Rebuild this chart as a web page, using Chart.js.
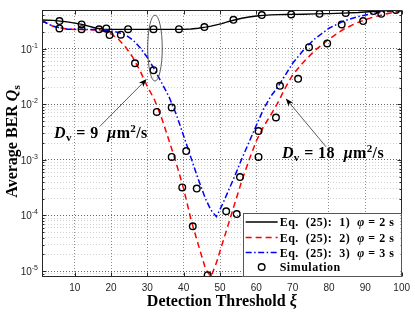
<!DOCTYPE html>
<html>
<head>
<meta charset="utf-8">
<script src="https://cdn.jsdelivr.net/npm/chart.js"></script>
<style>
  html, body { margin: 0; padding: 0; background: #fff; }
</style>
</head>
<body>
<canvas id="myChart" width="415" height="312"></canvas>
<script>
// detection threshold values where the analytical curves are read
const threshold = [1, 4, 8, 12, 16, 18, 20, 22, 24, 26, 28, 30, 32, 34, 36, 38, 40, 42, 44, 46, 47.5, 49, 50.5, 52, 54, 56, 58, 60, 62, 64, 66, 68, 70, 73, 76, 80, 84, 88, 92, 96, 100];

// Eq. (25): 1) phi = 2 s
const berEq1 = [0.33, 0.325, 0.305, 0.275, 0.235, 0.226, 0.224, 0.224, 0.224, 0.224, 0.224, 0.224, 0.224, 0.224, 0.224, 0.224, 0.224, 0.227, 0.235, 0.246, 0.256, 0.27, 0.285, 0.305, 0.33, 0.355, 0.375, 0.39, 0.40, 0.408, 0.412, 0.415, 0.417, 0.42, 0.425, 0.43, 0.44, 0.45, 0.47, 0.49, 0.50];
// Eq. (25): 2) phi = 2 s
const berEq2 = [0.32, 0.255, 0.226, 0.222, 0.218, 0.207, 0.185, 0.15, 0.108, 0.07, 0.04, 0.021, 0.012, 0.0055, 0.0022, 0.00085, 0.0003, 0.000085, 0.00003, 0.000011, 0.0000079, 0.000014, 0.000029, 0.00006, 0.00016, 0.00042, 0.001, 0.0022, 0.004, 0.0065, 0.011, 0.02, 0.034, 0.058, 0.092, 0.15, 0.225, 0.30, 0.37, 0.43, 0.48];
// Eq. (25): 3) phi = 3 s
const berEq3 = [0.32, 0.255, 0.226, 0.224, 0.222, 0.218, 0.21, 0.197, 0.178, 0.145, 0.105, 0.07, 0.042, 0.024, 0.0135, 0.0065, 0.0027, 0.0011, 0.00045, 0.0002, 0.000125, 0.000095, 0.00015, 0.00025, 0.0005, 0.00105, 0.0021, 0.0042, 0.0083, 0.014, 0.021, 0.034, 0.055, 0.095, 0.15, 0.235, 0.315, 0.38, 0.43, 0.47, 0.50];

// simulation markers
const simX = [5.8, 5.8, 11.9, 11.9, 16.7, 18.7, 19.6, 22.7, 24.7, 26.6, 31.7, 31.7, 32.6, 36.7, 36.7, 38.7, 39.6, 40.7, 42.5, 43.6, 45.7, 46.6, 51.7, 53.7, 54.6, 55.5, 60.6, 60.6, 61.5, 65.4, 66.5, 69.6, 71.5, 74.5, 77.4, 79.5, 83.5, 84.6, 89.4, 92.3, 94.4, 98.4];
const simY = [0.316, 0.233, 0.275, 0.226, 0.225, 0.233, 0.177, 0.18, 0.226, 0.055, 0.226, 0.0413, 0.0073, 0.0088, 0.00113, 0.226, 0.00032, 0.00144, 0.000064, 0.000305, 0.246, 0.0000084, 0.000119, 0.333, 0.000106, 0.00049, 0.00113, 0.0033, 0.405, 0.0058, 0.0216, 0.417, 0.0288, 0.107, 0.427, 0.125, 0.275, 0.44, 0.316, 0.478, 0.427, 0.5];

const xTicks = [10, 20, 30, 40, 50, 60, 70, 80, 90, 100];
const yDecades = [-5, -4, -3, -2, -1];

const SERIF = "'Liberation Serif', 'DejaVu Serif', serif";
const SANS = "'Liberation Sans', Arial, sans-serif";

const pts = (xs, ys) => xs.map((x, i) => ({ x: x, y: ys[i] }));

function richText(ctx, parts, x, y, center, spacing) {
    ctx.letterSpacing = (spacing || 0) + 'px';
    let w = 0;
    parts.forEach(p => { ctx.font = p.f; p.w = ctx.measureText(p.t).width; w += p.w; });
    let cx = center ? x - w / 2 : x;
    parts.forEach(p => { ctx.font = p.f; ctx.fillText(p.t, cx, y + (p.dy || 0)); cx += p.w; });
    ctx.letterSpacing = '0px';
}

function arrow(ctx, x0, y0, x1, y1) {
    const a = Math.atan2(y1 - y0, x1 - x0);
    ctx.strokeStyle = '#333';
    ctx.lineWidth = 0.8;
    ctx.beginPath();
    ctx.moveTo(x0, y0);
    ctx.lineTo(x1 - 6 * Math.cos(a), y1 - 6 * Math.sin(a));
    ctx.stroke();
    ctx.fillStyle = '#000';
    ctx.beginPath();
    ctx.moveTo(x1, y1);
    ctx.lineTo(x1 - 8 * Math.cos(a) + 3 * Math.sin(a), y1 - 8 * Math.sin(a) - 3 * Math.cos(a));
    ctx.lineTo(x1 - 6 * Math.cos(a), y1 - 6 * Math.sin(a));
    ctx.lineTo(x1 - 8 * Math.cos(a) - 3 * Math.sin(a), y1 - 8 * Math.sin(a) + 3 * Math.cos(a));
    ctx.closePath();
    ctx.fill();
}

function dvLabel(num) {
    const b = 'bold 16px ' + SERIF, bi = 'italic bold 16px ' + SERIF, s = 'bold 11px ' + SERIF;
    return [
        { t: 'D', f: bi }, { t: 'v', f: s, dy: 3 }, { t: ' = ' + num + '  ', f: b },
        { t: 'μ', f: bi }, { t: 'm', f: b }, { t: '2', f: s, dy: -6 }, { t: '/s', f: b }
    ];
}

const decor = {
    id: 'decor',
    afterDraw(chart) {
        const ctx = chart.ctx, ca = chart.chartArea;
        const xs = chart.scales.x, ys = chart.scales.y;
        ctx.save();

        // axes box + inward ticks
        ctx.strokeStyle = '#262626';
        ctx.lineWidth = 1;
        const L = Math.round(ca.left) + 0.5, R = Math.round(ca.right) - 0.5;
        const T = Math.round(ca.top) + 0.5, B = Math.round(ca.bottom) - 0.5;
        ctx.strokeRect(L, T, R - L, B - T);
        ctx.beginPath();
        xTicks.forEach(v => {
            const px = Math.round(xs.getPixelForValue(v)) + 0.5;
            ctx.moveTo(px, B); ctx.lineTo(px, B - 4);
            ctx.moveTo(px, T); ctx.lineTo(px, T + 4);
        });
        ys.ticks.forEach(t => {
            const py = Math.round(ys.getPixelForValue(t.value)) + 0.5;
            const len = t.major ? 4 : 2;
            ctx.moveTo(L, py); ctx.lineTo(L + len, py);
            ctx.moveTo(R, py); ctx.lineTo(R - len, py);
        });
        ctx.stroke();

        // y tick labels 10^n
        ctx.fillStyle = '#262626';
        ctx.textBaseline = 'alphabetic';
        yDecades.forEach(e => {
            const py = ys.getPixelForValue(Math.pow(10, e));
            ctx.font = '7px ' + SANS;
            const sup = String(e);
            const sw = ctx.measureText(sup).width;
            ctx.textAlign = 'left';
            ctx.fillText(sup, ca.left - 4 - sw, py - 1);
            ctx.font = '10px ' + SANS;
            ctx.textAlign = 'right';
            ctx.fillText('10', ca.left - 4 - sw, py + 4);
        });
        ctx.textAlign = 'left';

        // axis titles
        ctx.fillStyle = '#000';
        richText(ctx, [
            { t: 'Detection Threshold ', f: 'bold 16px ' + SERIF },
            { t: 'ξ', f: 'italic bold 16px ' + SERIF }
        ], (ca.left + ca.right) / 2, 306, true);
        ctx.save();
        ctx.translate(17, (ca.top + ca.bottom) / 2 - 2);
        ctx.rotate(-Math.PI / 2);
        richText(ctx, [
            { t: 'Average BER ', f: 'bold 16px ' + SERIF },
            { t: 'Q', f: 'italic bold 16px ' + SERIF },
            { t: 's', f: 'bold 11px ' + SERIF, dy: 3 }
        ], 0, 0, true);
        ctx.restore();

        // ellipse around the D_v = 9 curves
        const ecx = xs.getPixelForValue(32.1), ecy = ys.getPixelForValue(0.103);
        const erx = xs.getPixelForValue(34.1) - ecx;
        const ery = ecy - ys.getPixelForValue(0.405);
        ctx.strokeStyle = '#333';
        ctx.lineWidth = 0.8;
        ctx.beginPath();
        ctx.ellipse(ecx, ecy, erx, ery, 0, 0, Math.PI * 2);
        ctx.stroke();

        // annotations
        arrow(ctx, xs.getPixelForValue(16.9), ys.getPixelForValue(0.004), xs.getPixelForValue(29.8), ys.getPixelForValue(0.0285));
        arrow(ctx, xs.getPixelForValue(79.2), ys.getPixelForValue(0.00172), xs.getPixelForValue(68.1), ys.getPixelForValue(0.0128));
        ctx.fillStyle = '#000';
        richText(ctx, dvLabel('9'), xs.getPixelForValue(17.2), ys.getPixelForValue(0.00246), true, 0.4);
        richText(ctx, dvLabel('18'), xs.getPixelForValue(81.1), ys.getPixelForValue(0.00107), true, 0.4);

        // legend
        const lw = 158, lh = 64;
        const lx = ca.right - lw - 1, ly = ca.bottom - lh;
        ctx.fillStyle = '#fff';
        ctx.fillRect(lx, ly, lw, lh);
        ctx.strokeStyle = '#555';
        ctx.lineWidth = 1;
        ctx.strokeRect(Math.round(lx) + 0.5, Math.round(ly) + 0.5, lw, lh - 1);
        const rows = [ly + 9, ly + 24.5, ly + 39.5, ly + 54];
        const ds = chart.data.datasets;
        [1, 2, 3].forEach((k, i) => {
            const d = ds[k];
            ctx.strokeStyle = d.borderColor;
            ctx.lineWidth = d.borderWidth;
            ctx.setLineDash(d.borderDash || []);
            ctx.beginPath();
            ctx.moveTo(lx + 3, rows[i]);
            ctx.lineTo(lx + 35, rows[i]);
            ctx.stroke();
        });
        ctx.setLineDash([]);
        ctx.strokeStyle = '#000';
        ctx.lineWidth = 1.4;
        ctx.beginPath();
        ctx.arc(lx + 19, rows[3], 3.3, 0, Math.PI * 2);
        ctx.stroke();
        ctx.fillStyle = '#000';
        const lb = 'bold 12px ' + SERIF, lbi = 'italic bold 12px ' + SERIF;
        [['1', '2'], ['2', '2'], ['3', '3']].forEach((p, i) => {
            richText(ctx, [
                { t: 'Eq.  (25):  ' + p[0] + ')  ', f: lb },
                { t: 'φ', f: lbi },
                { t: ' = ' + p[1] + ' s', f: lb }
            ], lx + 37, rows[i] + 4, false, 0.5);
        });
        richText(ctx, [{ t: 'Simulation', f: lb }], lx + 37, rows[3] + 4, false, 0.5);

        ctx.restore();
    }
};

const data = {
    datasets: [
        {
            label: 'Simulation',
            data: pts(simX, simY),
            showLine: false,
            borderColor: '#000',
            backgroundColor: 'rgba(0,0,0,0)',
            pointRadius: 3.3,
            pointBorderWidth: 1.4,
            order: 0,
        },
        {
            label: 'Eq. (25): 1) φ = 2 s',
            data: pts(threshold, berEq1),
            borderColor: '#000',
            borderWidth: 1.4,
            pointRadius: 0,
            fill: false,
            tension: 0,
            order: 3,
        },
        {
            label: 'Eq. (25): 2) φ = 2 s',
            data: pts(threshold, berEq2),
            borderColor: '#ff0000',
            borderWidth: 1.5,
            borderDash: [6, 4],
            pointRadius: 0,
            fill: false,
            tension: 0,
            order: 2,
        },
        {
            label: 'Eq. (25): 3) φ = 3 s',
            data: pts(threshold, berEq3),
            borderColor: '#0000ff',
            borderWidth: 1.5,
            borderDash: [6, 2.5, 1.5, 2.5],
            pointRadius: 0,
            fill: false,
            tension: 0,
            order: 1,
        }
    ]
};

const config = {
    type: 'line',
    data: data,
    options: {
        responsive: false,
        animation: false,
        devicePixelRatio: 1,
        layout: { padding: { top: 10, right: 12, left: 0, bottom: 0 } },
        plugins: {
            legend: { display: false },
            tooltip: { enabled: false }
        },
        scales: {
            x: {
                type: 'linear',
                min: 1,
                max: 100,
                afterBuildTicks: s => { s.ticks = xTicks.map(v => ({ value: v })); },
                afterFit: s => { s.height = 35; },
                ticks: {
                    autoSkip: false,
                    maxRotation: 0,
                    padding: 5,
                    color: '#262626',
                    font: { family: 'Liberation Sans', size: 10 }
                },
                grid: {
                    drawTicks: false,
                    color: 'rgba(0,0,0,0.45)',
                    lineWidth: 1
                },
                border: { display: false, dash: [1, 2] }
            },
            y: {
                type: 'logarithmic',
                min: 7.8e-6,
                max: 0.5,
                afterBuildTicks: s => {
                    const t = [];
                    for (let e = -6; e <= -1; e++) {
                        for (let m = 1; m <= 9; m++) {
                            const v = m * Math.pow(10, e);
                            if (v >= s.min && v <= s.max) t.push({ value: v, major: m === 1 });
                        }
                    }
                    s.ticks = t;
                },
                afterFit: s => { s.width = 42; },
                ticks: { display: false },
                grid: {
                    drawTicks: false,
                    color: ctx => (ctx.tick && ctx.tick.major) ? 'rgba(0,0,0,0.6)' : 'rgba(0,0,0,0.18)',
                    lineWidth: 1
                },
                border: { display: false, dash: [1, 2] }
            }
        }
    },
    plugins: [decor]
};

const myChart = new Chart(document.getElementById('myChart'), config);
</script>
</body>
</html>
